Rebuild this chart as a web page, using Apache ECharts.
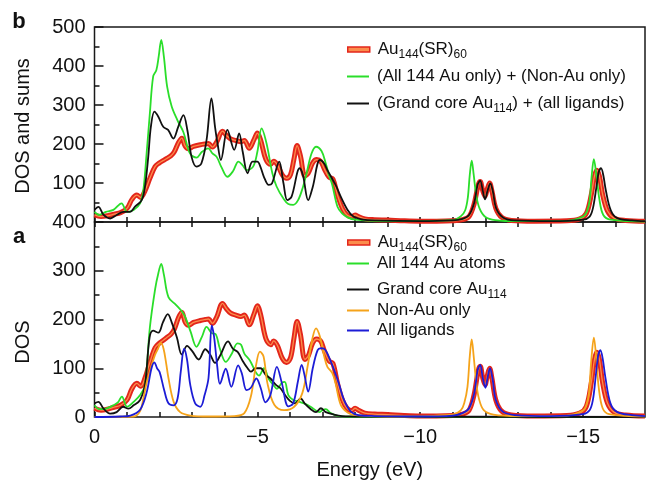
<!DOCTYPE html>
<html>
<head>
<meta charset="utf-8">
<script src="https://cdn.jsdelivr.net/npm/echarts@6/dist/echarts.min.js"></script>
<style>
html, body { margin: 0; padding: 0; background: #fff; }
#dos { width: 646px; height: 481px; }
</style>
</head>
<body>
<div id="dos"></div>
<script>
// [energy (eV), DOS]
const totalDOS = [[0,18],[-0.2,14],[-0.4,16],[-0.6,20],[-0.8,24],[-1.0,35],[-1.15,58],[-1.3,69],[-1.42,63],[-1.55,80],[-1.7,112],[-1.86,142],[-2.0,152],[-2.12,158],[-2.22,163],[-2.35,170],[-2.45,180],[-2.58,204],[-2.68,215],[-2.78,195],[-2.88,188],[-3.04,194],[-3.25,198],[-3.4,200],[-3.5,201],[-3.62,192],[-3.75,205],[-3.93,233],[-4.05,222],[-4.18,213],[-4.34,209],[-4.49,206],[-4.6,209],[-4.75,189],[-4.9,212],[-5.0,228],[-5.1,210],[-5.26,161],[-5.41,148],[-5.5,156],[-5.62,146],[-5.77,120],[-5.9,112],[-6.02,122],[-6.12,160],[-6.22,196],[-6.32,170],[-6.46,118],[-6.56,125],[-6.7,152],[-6.82,160],[-6.95,155],[-7.05,137],[-7.2,115],[-7.32,110],[-7.46,69],[-7.61,35],[-7.75,18],[-7.9,13],[-8.0,18],[-8.1,14],[-8.3,8],[-8.6,6],[-9.0,5],[-9.5,3],[-10.0,2],[-10.5,2],[-11.0,3],[-11.3,6],[-11.5,14],[-11.65,45],[-11.78,95],[-11.84,104],[-11.92,80],[-11.99,66],[-12.06,85],[-12.13,100],[-12.2,80],[-12.32,35],[-12.5,12],[-12.8,4],[-13.5,2],[-14.5,3],[-14.9,8],[-15.1,22],[-15.25,70],[-15.35,118],[-15.42,133],[-15.5,118],[-15.6,70],[-15.75,28],[-15.95,10],[-16.3,4],[-16.9,2]];

const sumAuNonAu = [[0,26],[-0.15,18],[-0.35,26],[-0.58,31],[-0.83,48],[-1.0,26],[-1.2,31],[-1.4,48],[-1.5,82],[-1.6,176],[-1.7,279],[-1.8,373],[-1.9,390],[-1.97,424],[-2.05,467],[-2.13,424],[-2.23,347],[-2.37,296],[-2.54,262],[-2.73,230],[-2.93,176],[-3.13,165],[-3.3,180],[-3.49,189],[-3.62,176],[-3.75,167],[-3.9,140],[-4.08,116],[-4.25,130],[-4.42,155],[-4.55,145],[-4.67,133],[-4.87,142],[-5.0,180],[-5.13,240],[-5.28,202],[-5.46,125],[-5.59,91],[-5.8,60],[-5.95,46],[-6.1,44],[-6.25,56],[-6.4,90],[-6.51,125],[-6.66,175],[-6.8,193],[-6.97,182],[-7.1,150],[-7.2,120],[-7.3,95],[-7.46,39],[-7.6,22],[-7.77,12],[-8.0,6],[-9.0,2],[-11.0,5],[-11.25,15],[-11.38,30],[-11.46,62],[-11.52,120],[-11.58,157],[-11.64,122],[-11.72,68],[-11.82,35],[-12.0,13],[-12.3,5],[-13.0,2],[-14.5,3],[-15.0,14],[-15.12,28],[-15.2,55],[-15.26,115],[-15.33,161],[-15.41,118],[-15.5,58],[-15.62,18],[-15.85,6],[-16.9,1]];

const sumCoreLig = [[0,31],[-0.12,39],[-0.28,18],[-0.48,9],[-0.68,18],[-0.88,26],[-1.09,26],[-1.25,40],[-1.45,56],[-1.55,91],[-1.65,167],[-1.73,244],[-1.84,283],[-1.96,270],[-2.11,244],[-2.26,236],[-2.42,214],[-2.57,244],[-2.73,274],[-2.85,236],[-2.98,167],[-3.13,142],[-3.28,150],[-3.44,210],[-3.59,317],[-3.7,244],[-3.78,200],[-3.88,159],[-4.08,236],[-4.29,185],[-4.44,227],[-4.55,180],[-4.7,125],[-4.85,155],[-5.0,155],[-5.1,140],[-5.2,116],[-5.35,95],[-5.45,99],[-5.67,155],[-5.8,100],[-5.92,56],[-6.05,65],[-6.3,138],[-6.4,120],[-6.56,56],[-6.7,90],[-6.92,159],[-7.05,150],[-7.15,133],[-7.4,95],[-7.56,65],[-7.77,31],[-7.95,14],[-8.2,7],[-8.6,4],[-10.0,2],[-11.0,4],[-11.3,8],[-11.5,18],[-11.66,50],[-11.76,95],[-11.84,106],[-11.92,80],[-11.99,58],[-12.07,82],[-12.15,99],[-12.23,78],[-12.33,35],[-12.55,11],[-12.9,4],[-14.0,2],[-15.0,6],[-15.2,14],[-15.3,35],[-15.4,85],[-15.48,128],[-15.55,138],[-15.62,120],[-15.7,80],[-15.85,30],[-16.05,10],[-16.5,4],[-16.9,2]];

const allAu = [[0,24],[-0.15,16],[-0.35,17],[-0.58,24],[-0.72,30],[-0.84,42],[-1.0,21],[-1.2,31],[-1.4,45],[-1.55,66],[-1.7,184],[-1.86,262],[-1.96,295],[-2.05,314],[-2.13,292],[-2.27,246],[-2.5,230],[-2.75,210],[-2.95,175],[-3.13,144],[-3.3,165],[-3.44,185],[-3.6,172],[-3.72,170],[-3.85,140],[-4.03,113],[-4.2,128],[-4.39,151],[-4.5,148],[-4.6,130],[-4.77,116],[-4.95,92],[-5.05,85],[-5.2,100],[-5.35,78],[-5.5,65],[-5.6,58],[-5.75,70],[-5.84,72],[-5.95,45],[-6.1,35],[-6.3,31],[-6.5,26],[-6.7,18],[-6.9,10],[-7.0,14],[-7.1,16],[-7.25,8],[-7.5,2],[-8.0,0.5],[-16.9,0]];

const grandCore = [[0,28],[-0.12,31],[-0.28,17],[-0.48,7],[-0.68,10],[-0.88,21],[-1.04,17],[-1.2,24],[-1.4,35],[-1.55,66],[-1.69,163],[-1.8,177],[-1.96,173],[-2.1,194],[-2.25,211],[-2.37,194],[-2.53,163],[-2.68,128],[-2.84,146],[-3.0,135],[-3.2,118],[-3.4,139],[-3.55,128],[-3.7,111],[-3.85,125],[-4.1,155],[-4.25,140],[-4.4,133],[-4.55,115],[-4.7,100],[-4.8,93],[-4.95,100],[-5.1,100],[-5.26,86],[-5.4,79],[-5.57,66],[-5.72,58],[-5.85,45],[-6.0,33],[-6.15,28],[-6.33,38],[-6.45,28],[-6.64,16],[-6.8,10],[-6.95,18],[-7.1,10],[-7.35,5],[-7.6,2],[-8.2,1],[-16.9,0]];

const nonAu = [[0,0],[-1.2,1],[-1.4,12],[-1.5,38],[-1.6,70],[-1.7,94],[-1.86,128],[-1.95,140],[-2.04,152],[-2.12,140],[-2.2,110],[-2.27,80],[-2.43,31],[-2.63,10],[-2.94,3],[-3.5,1],[-4.3,2],[-4.6,8],[-4.8,42],[-4.95,103],[-5.08,134],[-5.19,124],[-5.31,69],[-5.52,25],[-5.82,14],[-6.13,21],[-6.38,49],[-6.54,103],[-6.69,161],[-6.8,182],[-6.92,165],[-7.05,125],[-7.15,103],[-7.3,90],[-7.4,69],[-7.56,25],[-7.77,9],[-8.0,4],[-9.0,1],[-11.0,5],[-11.25,14],[-11.35,28],[-11.45,62],[-11.52,124],[-11.58,159],[-11.64,125],[-11.72,70],[-11.8,38],[-11.95,14],[-12.25,5],[-13.0,2],[-14.5,3],[-15.0,14],[-15.1,25],[-15.18,50],[-15.25,115],[-15.33,163],[-15.41,115],[-15.48,60],[-15.6,18],[-15.8,6],[-16.9,1]];

const ligands = [[0,0],[-0.8,1],[-1.1,3],[-1.4,15],[-1.6,50],[-1.75,100],[-1.84,112],[-1.92,100],[-2.0,92],[-2.14,55],[-2.27,28],[-2.43,24],[-2.55,38],[-2.65,94],[-2.75,140],[-2.84,118],[-2.94,66],[-3.09,28],[-3.25,21],[-3.38,45],[-3.5,80],[-3.6,188],[-3.67,165],[-3.77,103],[-3.85,68],[-4.03,99],[-4.2,62],[-4.41,106],[-4.52,90],[-4.67,55],[-4.8,60],[-4.97,79],[-5.1,60],[-5.25,30],[-5.4,45],[-5.6,103],[-5.75,70],[-5.95,22],[-6.1,28],[-6.25,75],[-6.36,107],[-6.45,85],[-6.56,52],[-6.7,100],[-6.85,137],[-6.95,141],[-7.05,140],[-7.15,130],[-7.36,96],[-7.5,69],[-7.66,35],[-7.87,11],[-8.1,4],[-8.6,2],[-10.0,1],[-11.0,3],[-11.3,8],[-11.5,18],[-11.66,49],[-11.76,95],[-11.84,107],[-11.92,80],[-12.0,60],[-12.07,82],[-12.14,100],[-12.22,78],[-12.32,35],[-12.53,11],[-12.9,4],[-14.0,2],[-15.0,6],[-15.2,14],[-15.3,35],[-15.38,79],[-15.46,125],[-15.53,137],[-15.6,120],[-15.68,83],[-15.84,28],[-16.05,10],[-16.5,4],[-16.9,2]];

const energyTicks = [0,-1,-2,-3,-4,-5,-6,-7,-8,-9,-10,-11,-12,-13,-14,-15,-16];
const energyLabels = [0,-5,-10,-15];

const FONT = 'Liberation Sans, Arial, Helvetica, sans-serif';
const RED = '#e3261b', RED_MID = '#fb8d4c', GREEN = '#2ade2a', BLACK = '#111111', ORANGE = '#f5a31a', BLUE = '#1c1cd6';

const chart = echarts.init(document.getElementById('dos'));

const legendNames = {
    'Au144(SR)60': '{n|Au}{s|144}{n|(SR)}{s|60}',
    '(All 144 Au only) + (Non-Au only)': '{n|(All 144 Au only) + (Non-Au only)}',
    '(Grand core Au114) + (all ligands)': '{n|(Grand core Au}{s|114}{n|) + (all ligands)}',
    'All 144 Au atoms': '{n|All 144 Au atoms}',
    'Grand core Au114': '{n|Grand core Au}{s|114}',
    'Non-Au only': '{n|Non-Au only}',
    'All ligands': '{n|All ligands}'
};

function legendRow(name, centerY, color) {
    const isTotal = name === 'Au144(SR)60';
    return {
        data: [name],
        left: 347,
        top: centerY - 11,
        padding: 0,
        icon: 'rect',
        itemWidth: 22,
        itemHeight: isTotal ? 5 : 2,
        itemStyle: isTotal ? { color: RED_MID, borderColor: RED, borderWidth: 1.5 } : { color: color, borderWidth: 0 },
        selectedMode: false,
        formatter: n => legendNames[n],
        textStyle: {
            padding: [0, 0, 0, 3],
            rich: {
                n: { fontFamily: FONT, fontSize: 17, color: '#111', lineHeight: 22, verticalAlign: 'middle' },
                s: { fontFamily: FONT, fontSize: 12, color: '#111', lineHeight: 12, verticalAlign: 'bottom' }
            }
        }
    };
}

function energyAxis(gridIndex, position, showLabels) {
    return {
        type: 'value',
        gridIndex: gridIndex,
        position: position,
        min: -16.9,
        max: 0,
        inverse: true,
        axisLine: { show: false },
        splitLine: { show: false },
        axisTick: { show: true, inside: true, length: 5, customValues: energyTicks, lineStyle: { color: BLACK, width: 1.5 } },
        axisLabel: {
            show: showLabels,
            customValues: energyLabels,
            margin: 10,
            fontFamily: FONT,
            fontSize: 20,
            color: '#111',
            formatter: v => (v === 0 ? '0' : '\u2212' + Math.abs(v))
        },
        name: showLabels ? 'Energy (eV)' : '',
        nameLocation: 'middle',
        nameGap: 43,
        nameTextStyle: { fontFamily: FONT, fontSize: 20, color: '#111' }
    };
}

function dosAxis(gridIndex, max, showMin) {
    return {
        type: 'value',
        gridIndex: gridIndex,
        min: 0,
        max: max,
        interval: 100,
        axisLine: { show: false },
        splitLine: { show: false },
        axisTick: { show: true, inside: true, length: 9, lineStyle: { color: BLACK, width: 1.5 } },
        minorTick: { show: true, splitNumber: 2, length: 5, lineStyle: { color: BLACK, width: 1.5 } },
        axisLabel: { showMinLabel: showMin, margin: 9, fontFamily: FONT, fontSize: 20, color: '#111' }
    };
}

function line(name, data, color, width, xi, yi, z) {
    return {
        name: name,
        type: 'line',
        data: data,
        xAxisIndex: xi,
        yAxisIndex: yi,
        showSymbol: false,
        symbol: 'none',
        smooth: 0.35,
        color: color,
        lineStyle: { color: color, width: width },
        z: z || 2
    };
}

const option = {
    backgroundColor: '#fff',
    animation: false,
    grid: [
        { left: 94.5, top: 27, width: 550.5, height: 195, show: true, borderColor: '#1a1a1a', borderWidth: 1.5, backgroundColor: 'transparent' },
        { left: 94.5, top: 222, width: 550.5, height: 195, show: true, borderColor: '#1a1a1a', borderWidth: 1.5, backgroundColor: 'transparent' }
    ],
    xAxis: [
        energyAxis(0, 'bottom', false),
        energyAxis(1, 'bottom', true),
        energyAxis(1, 'top', false)
    ],
    yAxis: [
        dosAxis(0, 500, false),
        dosAxis(1, 400, true)
    ],
    legend: [
        legendRow('Au144(SR)60', 52, RED),
        legendRow('(All 144 Au only) + (Non-Au only)', 79, GREEN),
        legendRow('(Grand core Au114) + (all ligands)', 106, BLACK),
        legendRow('Au144(SR)60', 245, RED),
        legendRow('All 144 Au atoms', 266, GREEN),
        legendRow('Grand core Au114', 292, BLACK),
        legendRow('Non-Au only', 313, ORANGE),
        legendRow('All ligands', 333, BLUE)
    ],
    graphic: [
        { type: 'text', x: 19, y: 22, style: { text: 'b', font: 'bold 22px ' + FONT, fill: '#111', textAlign: 'center', textVerticalAlign: 'middle' } },
        { type: 'text', x: 19, y: 237, style: { text: 'a', font: 'bold 22px ' + FONT, fill: '#111', textAlign: 'center', textVerticalAlign: 'middle' } },
        { type: 'text', x: 23, y: 126, rotation: Math.PI / 2, style: { text: 'DOS and sums', font: '20px ' + FONT, fill: '#111', textAlign: 'center', textVerticalAlign: 'middle' } },
        { type: 'text', x: 23, y: 342, rotation: Math.PI / 2, style: { text: 'DOS', font: '20px ' + FONT, fill: '#111', textAlign: 'center', textVerticalAlign: 'middle' } }
    ],
    series: [
        line('Au144(SR)60', totalDOS, RED, 5, 0, 0, 2),
        line('Au144(SR)60 mid', totalDOS, RED_MID, 1.3, 0, 0, 3),
        line('(All 144 Au only) + (Non-Au only)', sumAuNonAu, GREEN, 1.8, 0, 0, 4),
        line('(Grand core Au114) + (all ligands)', sumCoreLig, BLACK, 1.8, 0, 0, 5),

        line('Au144(SR)60', totalDOS, RED, 5, 1, 1, 2),
        line('Au144(SR)60 mid', totalDOS, RED_MID, 1.3, 1, 1, 3),
        line('All 144 Au atoms', allAu, GREEN, 1.8, 1, 1, 4),
        line('Grand core Au114', grandCore, BLACK, 1.8, 1, 1, 5),
        line('Non-Au only', nonAu, ORANGE, 1.8, 1, 1, 6),
        line('All ligands', ligands, BLUE, 1.8, 1, 1, 7)
    ]
};

chart.setOption(option);
</script>
</body>
</html>
